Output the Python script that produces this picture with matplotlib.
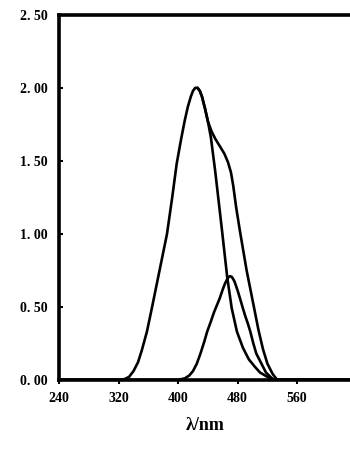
import matplotlib
matplotlib.use("Agg")
import matplotlib.pyplot as plt

# Curve 1: main band, inner (steeper) descending branch
wl1 = [240, 300, 320, 328, 334, 340, 346, 351, 358, 365, 375, 385, 392, 398, 404, 409, 413, 417,
       420, 423, 426, 429, 432, 436, 440, 444, 450, 459, 466, 472, 479, 487, 495, 503, 510, 520,
       530, 630]
ab1 = [0, 0, 0, 0.005, 0.02, 0.06, 0.12, 0.2, 0.33, 0.5, 0.75, 1.0, 1.25, 1.48, 1.65, 1.78, 1.87,
       1.94, 1.98, 2.0, 2.0, 1.98, 1.94, 1.86, 1.77, 1.66, 1.42, 1.02, 0.7, 0.49, 0.33, 0.22,
       0.14, 0.09, 0.05, 0.02, 0, 0]

# Curve 2: main band with shoulder
wl2 = [426, 429, 432, 436, 440, 445, 450, 456, 462, 467, 471, 474, 478, 483, 492, 501, 508, 514,
       520, 527, 533, 630]
ab2 = [2.0, 1.98, 1.94, 1.86, 1.77, 1.7, 1.65, 1.6, 1.55, 1.49, 1.42, 1.33, 1.18, 1.02, 0.75,
       0.52, 0.34, 0.21, 0.11, 0.04, 0, 0]

# Curve 3: small band
wl3 = [240, 400, 409, 415, 420, 425, 430, 435, 439, 444, 448, 452, 456, 460, 463, 466, 468, 470,
       472, 474, 476, 480, 483, 487, 490, 494, 497, 501, 505, 510, 514, 518, 522, 528, 630]
ab3 = [0, 0, 0.01, 0.03, 0.06, 0.11, 0.18, 0.26, 0.33, 0.4, 0.46, 0.51, 0.56, 0.62, 0.66, 0.69,
       0.705, 0.71, 0.705, 0.69, 0.67, 0.61, 0.56, 0.49, 0.44, 0.38, 0.33, 0.25, 0.18, 0.13,
       0.09, 0.05, 0.03, 0, 0]

xticks = [240, 320, 400, 480, 560]
yticks = [0.0, 0.5, 1.0, 1.5, 2.0, 2.5]
ylabels = ["0. 00", "0. 50", "1. 00", "1. 50", "2. 00", "2. 50"]

fig = plt.figure(figsize=(3.5, 4.5), dpi=100)
ax = fig.add_axes([0.169, 0.156, 0.831, 0.811])
for wl, ab in [(wl1, ab1), (wl2, ab2), (wl3, ab3)]:
    ax.plot(wl, ab, color="black", lw=1.9, solid_joinstyle="round", solid_capstyle="round")

ax.set_xlim(240, 631)
ax.set_ylim(0, 2.5)
ax.spines["right"].set_visible(False)
for s in ["left", "top", "bottom"]:
    ax.spines[s].set_linewidth(2.6)
ax.set_xticks(xticks)
ax.set_xticklabels([str(t) for t in xticks])
ax.set_yticks(yticks)
ax.set_yticklabels(ylabels)
ax.tick_params(axis="x", direction="out", length=3, width=1.5, pad=6)
ax.tick_params(axis="y", direction="in", length=3, width=1.5, pad=8)
for lab in ax.get_xticklabels() + ax.get_yticklabels():
    lab.set_fontfamily("Liberation Serif")
    lab.set_fontweight("bold")
    lab.set_fontsize(10)
fig.text(0.585, 0.055, "λ/nm", ha="center", va="center", fontsize=13,
         fontweight="bold", family="Liberation Serif")
fig.savefig("out.png", dpi=100)
